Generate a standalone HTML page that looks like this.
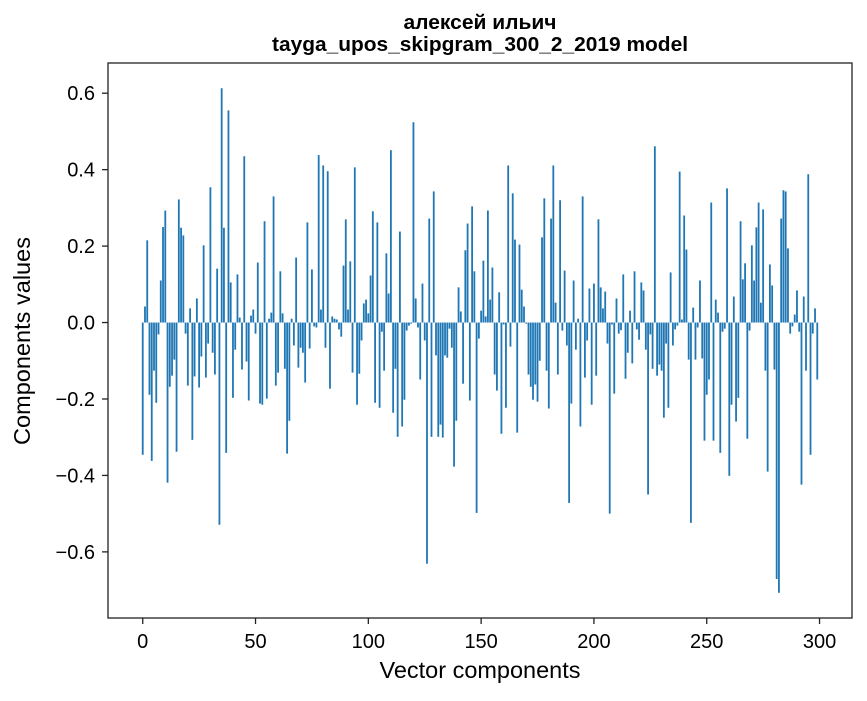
<!DOCTYPE html>
<html><head><meta charset="utf-8"><style>
body{margin:0;background:#fff;}
svg text{font-family:"Liberation Sans","DejaVu Sans",sans-serif;fill:#000;}
</style></head><body>
<svg id="chart" width="867" height="696" xmlns="http://www.w3.org/2000/svg">
<rect x="0" y="0" width="867" height="696" fill="#fff"/>
<text x="480" y="29" text-anchor="middle" font-size="20" font-weight="bold" textLength="153" lengthAdjust="spacingAndGlyphs">алексей ильич</text>
<text x="480" y="51" text-anchor="middle" font-size="20" font-weight="bold" textLength="416" lengthAdjust="spacingAndGlyphs">tayga_upos_skipgram_300_2_2019 model</text>
<g id="bars"></g>
<g id="axes"></g>
<text x="480" y="678" text-anchor="middle" font-size="23" textLength="201" lengthAdjust="spacingAndGlyphs">Vector components</text>
<text x="0" y="0" transform="translate(30,341) rotate(-90)" text-anchor="middle" font-size="23" textLength="208" lengthAdjust="spacingAndGlyphs">Components values</text>
</svg>
<script>
const values = [
-0.346,0.042,0.215,-0.189,-0.362,-0.126,-0.21,-0.031,0.11,0.25,
0.293,-0.419,-0.168,-0.139,-0.097,-0.338,0.322,0.248,0.228,-0.029,
-0.165,0.037,-0.307,-0.141,0.063,-0.17,-0.089,0.202,-0.144,-0.055,
0.354,-0.079,-0.136,0.141,-0.529,0.613,0.248,-0.341,0.555,0.105,
-0.197,-0.071,0.126,0.013,-0.123,0.435,-0.102,-0.204,0.018,0.034,
-0.029,0.157,-0.212,-0.215,0.265,-0.199,0.010,0.026,0.33,-0.165,
-0.131,0.134,0.024,-0.121,-0.343,-0.257,0.010,-0.06,0.17,-0.118,
-0.066,-0.079,-0.157,0.262,-0.068,0.139,-0.010,-0.013,0.438,0.034,
0.411,-0.066,0.396,-0.173,0.016,0.010,0.008,-0.018,-0.037,0.149,
0.27,0.034,0.16,-0.131,0.406,-0.215,-0.134,-0.047,0.05,0.06,
0.024,0.123,0.291,-0.21,0.262,-0.223,-0.024,-0.126,0.181,0.076,
0.451,-0.236,-0.121,-0.299,0.238,-0.272,-0.202,-0.021,-0.008,-0.003,
0.524,0.063,-0.013,-0.149,0.102,-0.047,-0.631,0.272,-0.299,0.343,
-0.086,-0.299,-0.267,-0.301,-0.086,-0.092,-0.016,-0.066,-0.377,-0.257,
0.092,0.029,-0.16,0.189,0.259,-0.204,0.304,0.134,-0.498,-0.042,
0.031,0.162,0.016,0.293,0.06,0.144,-0.136,-0.178,0.079,-0.291,
-0.005,-0.223,0.411,-0.063,0.338,0.217,-0.288,0.204,0.086,0.042,
-0.003,-0.136,-0.168,-0.202,-0.162,-0.207,-0.1,0.223,0.325,-0.126,
-0.225,0.272,0.411,0.052,-0.136,0.32,-0.021,0.136,-0.06,-0.472,
-0.212,0.11,-0.071,0.010,-0.272,0.33,-0.144,-0.047,0.089,-0.215,
0.102,-0.139,0.27,0.092,0.037,0.081,-0.055,-0.5,-0.005,-0.186,
0.063,-0.029,-0.02,0.126,-0.147,-0.079,0.031,-0.107,0.134,-0.018,
-0.045,0.105,0.084,-0.071,-0.45,-0.031,-0.121,0.461,-0.139,-0.110,
-0.126,-0.249,-0.055,-0.223,0.131,-0.06,-0.018,-0.008,0.395,0.008,
0.28,0.191,-0.097,-0.524,0.039,-0.097,-0.013,0.11,-0.094,-0.309,
-0.189,-0.149,0.314,-0.309,0.06,0.026,-0.341,-0.024,-0.016,0.351,
-0.401,-0.215,0.068,-0.259,-0.197,0.265,0.113,0.155,-0.304,-0.021,
0.202,0.11,0.249,0.314,0.052,0.296,-0.126,-0.39,0.152,0.097,
-0.123,-0.671,-0.707,0.272,0.346,0.343,0.194,-0.029,-0.01,0.021,
0.084,-0.024,-0.424,0.068,-0.126,0.388,-0.346,-0.029,0.037,-0.149
];
const xTicks = [0,50,100,150,200,250,300];
const yTicks = [-0.6,-0.4,-0.2,0.0,0.2,0.4,0.6];
const yTickLabels = ["\u22120.6","\u22120.4","\u22120.2","0.0","0.2","0.4","0.6"];

const NS="http://www.w3.org/2000/svg";
const L=108,R=852,T=63,B=618;
const n=values.length;
const xmin=-0.4-(n-0.2)*0.05, xmax=(n-1)+0.4+(n-0.2)*0.05;
const vmin=Math.min(0,...values), vmax=Math.max(0,...values);
const ym=(vmax-vmin)*0.05;
const ymin=vmin-ym, ymax=vmax+ym;
function xs(v){return L+(v-xmin)/(xmax-xmin)*(R-L);}
function ys(v){return B-(v-ymin)/(ymax-ymin)*(B-T);}
const bars=document.getElementById('bars');
values.forEach((v,i)=>{
  const r=document.createElementNS(NS,'rect');
  const x0=xs(i-0.4),x1=xs(i+0.4);
  const y0=ys(Math.max(0,v)),y1=ys(Math.min(0,v));
  r.setAttribute('x',x0);r.setAttribute('width',x1-x0);
  r.setAttribute('y',y0);r.setAttribute('height',Math.max(0.3,y1-y0));
  r.setAttribute('fill','#1f77b4');
  
  
  bars.appendChild(r);
});
const axes=document.getElementById('axes');
const frame=document.createElementNS(NS,'rect');
frame.setAttribute('x',L);frame.setAttribute('y',T);frame.setAttribute('width',R-L);frame.setAttribute('height',B-T);
frame.setAttribute('fill','none');frame.setAttribute('stroke','#222');frame.setAttribute('stroke-width','1.3');


axes.appendChild(frame);
xTicks.forEach(t=>{
  const x=xs(t);
  const ln=document.createElementNS(NS,'line');
  ln.setAttribute('x1',x);ln.setAttribute('x2',x);ln.setAttribute('y1',B);ln.setAttribute('y2',B+6);
  ln.setAttribute('stroke','#222');ln.setAttribute('stroke-width','1.3');
  
  
  axes.appendChild(ln);
  const tx=document.createElementNS(NS,'text');
  tx.setAttribute('x',x);tx.setAttribute('y',B+30);tx.setAttribute('text-anchor','middle');tx.setAttribute('font-size','20');
  tx.textContent=String(t);
  
  
  axes.appendChild(tx);
});
yTicks.forEach((t,k)=>{
  const y=ys(t);
  const ln=document.createElementNS(NS,'line');
  ln.setAttribute('x1',L-6);ln.setAttribute('x2',L);ln.setAttribute('y1',y);ln.setAttribute('y2',y);
  ln.setAttribute('stroke','#222');ln.setAttribute('stroke-width','1.3');
  
  
  axes.appendChild(ln);
  const tx=document.createElementNS(NS,'text');
  tx.setAttribute('x',L-13);tx.setAttribute('y',y+7);tx.setAttribute('text-anchor','end');tx.setAttribute('font-size','20');
  tx.textContent=yTickLabels[k];
  
  
  axes.appendChild(tx);
});
</script>
</body></html>
